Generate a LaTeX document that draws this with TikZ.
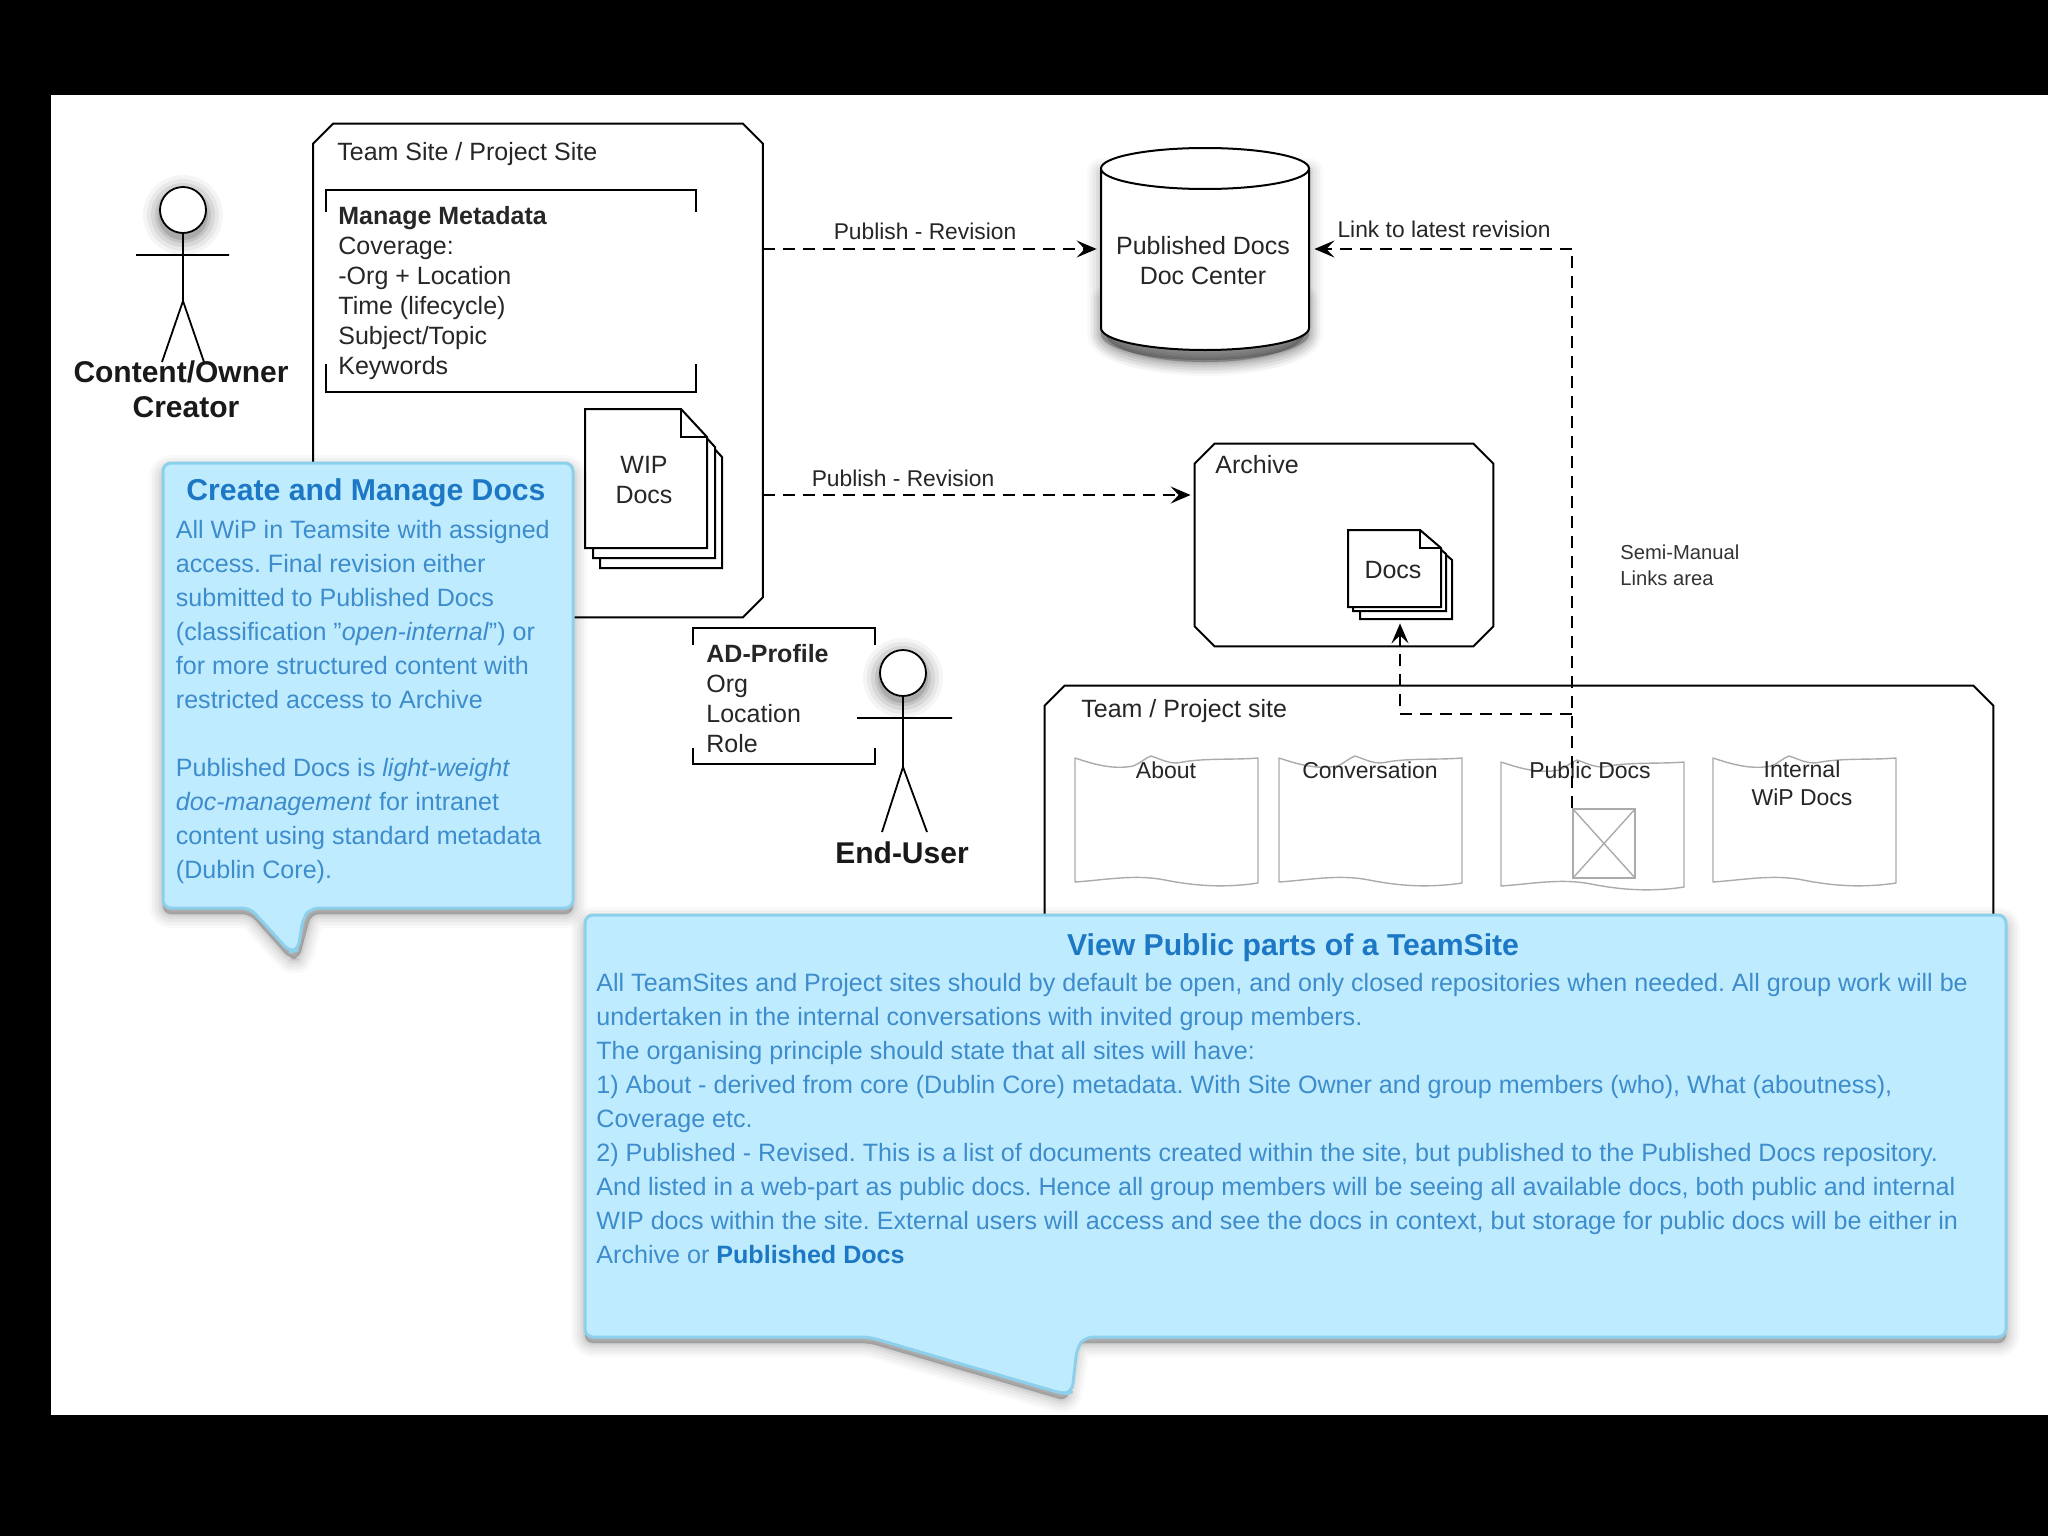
\documentclass[tikz,border=0pt]{standalone}
\usepackage{fontspec}
\setmainfont{Liberation Sans}[Ligatures=ResetAll]
\usetikzlibrary{arrows.meta,calc}
\definecolor{cofill}{HTML}{BFEBFF}
\definecolor{coline}{HTML}{8CD0EC}
\definecolor{cotitle}{HTML}{1C78C4}
\definecolor{cotext}{HTML}{3D8CCB}
\definecolor{pagegrey}{HTML}{ABABAB}
\newcommand{\softshadow}[1]{%
  \foreach \w/\o in {28/0.025,22/0.03,16/0.035,10/0.04,5/0.05,1/0.05}{%
    \path[fill=black,draw=black,line width=\w*0.5pt,line join=round,opacity=\o] #1;}}
\newcommand{\softdisc}[2]{%
  \foreach \r/\o in {40/0.04,36/0.05,32/0.07,28/0.09,25/0.12}{%
    \fill[black,opacity=\o] (#1,#2) circle[radius=\r];}}
\newcommand{\docsheet}[6]{%
  \draw[sheet] (#1,#2) -- ++(#3-#5,0) -- ++(#5,#6) -- ++(0,#4-#6) -- ++(-#3,0) -- cycle;}
% chamfered outline round a named rectangular node (corner cut 20 px)
\newcommand{\chamferbox}[1]{%
  \path[site] ([xshift=10pt]#1.north west) -- ([xshift=-10pt]#1.north east) -- ([yshift=-10pt]#1.north east)
    -- ([yshift=10pt]#1.south east) -- ([xshift=-10pt]#1.south east) -- ([xshift=10pt]#1.south west)
    -- ([yshift=10pt]#1.south west) -- ([yshift=-10pt]#1.north west) -- cycle;}
\tikzset{
  txt/.style={font=\frenchspacing\fontsize{12.5}{15}\selectfont,inner sep=0pt,text=black!85,align=left},
  small/.style={font=\fontsize{11.4}{13}\selectfont,inner sep=0pt,text=black!85},
  tiny/.style={font=\fontsize{10.1}{13}\selectfont,inner sep=0pt,text=black!80,align=left},
  pagelbl/.style={font=\fontsize{11.5}{14}\selectfont,inner sep=0pt,text=black!85,align=center},
  actorlbl/.style={font=\bfseries\fontsize{15}{18}\selectfont,inner sep=0pt,text=black!90,align=center},
  anchorbox/.style={inner sep=0pt},
  site/.style={draw=black,line width=1pt,fill=white,line join=miter},
  bracket/.style={draw=black,line width=1pt},
  sheet/.style={draw=black,line width=1pt,fill=white,line join=miter},
  stick/.style={draw=black,line width=.9pt},
  head/.style={circle,draw=black,line width=.9pt,fill=white,minimum size=23pt,inner sep=0pt},
  link/.style={draw=black,line width=1pt,dash pattern=on 6pt off 4pt,-{Stealth[length=10pt,width=8.5pt,inset=4pt]}},
  callout/.style={fill=cofill,draw=coline,line width=1.5pt,rounded corners=4pt,line join=round},
  cotitle/.style={font=\bfseries\fontsize{15.1}{18}\selectfont,inner sep=0pt,text=cotitle},
  cobody/.style={font=\frenchspacing\fontsize{12.55}{17}\selectfont,inner sep=0pt,text=cotext,align=left},
  wavepage/.pic={
    \draw[pagegrey,line width=.7pt,line join=round]
      (0,0) .. controls (18,6) and (38,12) .. (58,8)
      .. controls (66,5) and (70,0) .. (76,-2)
      .. controls (88,2) and (96,7) .. (108,4)
      .. controls (130,0) and (160,2) .. (183,0)
      -- (183,125) .. controls (150,130) and (120,128) .. (90,122)
      .. controls (60,116) and (30,122) .. (0,124) -- cycle;
  }
}
\begin{document}
\begin{tikzpicture}[x=0.5pt,y=-0.5pt]
\useasboundingbox (0,0) rectangle (2048,1536);
\fill[black] (0,0) rectangle (2048,1536);
\fill[white] (51,95) rectangle (2048,1415);

% Team site / project site
\node[anchorbox,minimum width=224.5pt,minimum height=246.5pt] (ts) at (538,370.5) {};
\chamferbox{ts}
\node[txt,anchor=west] (tstitle) at (337,154.5) {Team Site / Project Site};
\draw[bracket] (325.5,212) -- (325.5,190) -- (696,190) -- (696,212);
\draw[bracket] (325.5,364) -- (325.5,392) -- (696,392) -- (696,364);
\node[txt,anchor=north west] (meta) at (338,206) {\textbf{Manage Metadata}\\Coverage:\\-Org + Location\\Time (lifecycle)\\Subject/Topic\\Keywords};

% WIP docs stack
\docsheet{600}{429}{122}{139}{26}{28}
\docsheet{593}{419}{122}{139}{26}{28}
\docsheet{585}{409}{122}{139}{26}{28}
\draw[bracket,line width=.9pt] (681,409) -- (681,437) -- (707,437);
\node[txt,align=center] (wip) at (644,480) {WIP\\Docs};

% Cylinder
\softshadow{(1101,172) -- (1101,334) arc[start angle=180,end angle=0,x radius=104,y radius=26] -- (1309,172) -- cycle}
\softshadow{(1105,300) -- (1105,332) arc[start angle=180,end angle=0,x radius=100,y radius=30] -- (1305,300) -- cycle}
\path[fill=white,draw=black,line width=1pt] (1101,168.5) -- (1101,328) arc[start angle=180,end angle=0,x radius=104,y radius=22] -- (1309,168.5) -- cycle;
\path[fill=white,draw=black,line width=1pt] (1205,168.5) ellipse[x radius=104,y radius=20.5];
\node[anchorbox,minimum width=104pt,minimum height=101pt] (cyl) at (1205,249) {};
\node[txt,align=center] (cyllbl) at (1203,261) {Published Docs\\Doc Center};

% Archive
\node[anchorbox,minimum width=149pt,minimum height=101pt] (arch) at (1344,545) {};
\chamferbox{arch}
\node[txt,anchor=west] (archtitle) at (1215,465) {Archive};
\docsheet{1360}{542}{92}{77}{21}{18}
\docsheet{1353}{536}{93}{75}{21}{18}
\docsheet{1348}{530}{93}{77}{21}{18}
\draw[bracket,line width=.9pt] (1420,530) -- (1420,548) -- (1441,548);
\node[txt] (docslbl) at (1393,570) {Docs};
\node[anchorbox,minimum width=52pt,minimum height=44.5pt] (docstack) at (1400,574.5) {};

% Team / project site
\node[anchorbox,minimum width=474pt,minimum height=200pt] (tp) at (1519,886) {};
\chamferbox{tp}
\node[txt,anchor=west] (tptitle) at (1081,711) {Team / Project site};
\pic (pgabout) at (1075,758) {wavepage};
\pic (pgconv) at (1279,758) {wavepage};
\pic (pgpub) at (1501,762) {wavepage};
\pic (pgint) at (1713,758) {wavepage};
\node[pagelbl] (labout) at (1166,770) {About};
\node[pagelbl] (lconv) at (1370,770) {Conversation};
\node[pagelbl] (lpub) at (1590,770) {Public Docs};
\node[pagelbl,anchor=north] (lint) at (1802,760.5) {Internal\\WiP Docs};
\node[draw=pagegrey,line width=.7pt,inner sep=0pt,minimum width=31pt,minimum height=34.5pt] (ph) at (1604,843.5) {};
\draw[pagegrey,line width=.7pt] (ph.north west) -- (ph.south east) (ph.north east) -- (ph.south west);

% Labels
\node[tiny,anchor=west] (semi) at (1620,565) {Semi-Manual\\Links area};

% Connectors
\draw[link,shorten >=2pt] (ts.east |- cyl.west) -- (cyl.west);
\draw[link,shorten >=2pt] (ts.east |- 0,495) -- ([yshift=25pt]arch.west);
\draw[link,shorten >=2.5pt] (ph.north west) -- (ph.north west |- cyl.east) -- (cyl.east);
\coordinate (branch) at (ph.north west |- 0,714);
\draw[link,shorten >=2pt] (branch) -| (docstack.south);
\node[small] (pub1) at (925,231) {Publish - Revision};
\node[small] (pub2) at (903,478) {Publish - Revision};
\node[small] (linklbl) at (1444,229) {Link to latest revision};

% Actor 1
\softdisc{183}{215}
\node[head] (h1) at (183,210) {};
\coordinate (hip1) at (183,301);
\draw[stick] (h1.south) -- (hip1) (136,255) -- (229,255) (162,362) -- (hip1) -- (204,362);
\node[actorlbl] (c1) at (181,372) {Content/Owner};
\node[actorlbl] (c2) at (186,407) {Creator};

% AD profile and actor 2
\draw[bracket] (693,645) -- (693,628) -- (875,628) -- (875,645);
\draw[bracket] (693,748) -- (693,764) -- (875,764) -- (875,748);
\node[txt,anchor=north west] (ad) at (706,644) {\textbf{AD-Profile}\\Org\\Location\\Role};
\softdisc{903}{678}
\node[head] (h2) at (903,673) {};
\coordinate (hip2) at (903,767);
\draw[stick] (h2.south) -- (hip2) (857,718) -- (952,718) (882,832) -- (hip2) -- (927,832);
\node[actorlbl] (eu) at (902,853) {End-User};

% Callout 1
\softshadow{[shift={(0,6)},rounded corners=4pt] (163,463) -- (573,463) -- (573,908) -- (311,908) -- (299,953) -- (290,953) -- (250,908) -- (163,908) -- cycle}
\path[callout] (163,463) -- (573,463) -- (573,908) -- (311,908) -- (303,918) -- (298,950) -- (290,952) -- (250,908) -- (163,908) -- cycle;
\node[cotitle] (c1t) at (366,493) {Create and Manage Docs};
\node[cobody,anchor=north west] (c1b) at (175.5,520) {All WiP in Teamsite with assigned\\access. Final revision either\\submitted to Published Docs\\(classification "\textit{open-internal}") or\\for more structured content with\\restricted access to Archive\\[17pt]Published Docs is \textit{light-weight}\\\textit{doc-management} for intranet\\content using standard metadata\\(Dublin Core).};

% Callout 2
\softshadow{[shift={(0,6)},rounded corners=4pt] (585,915) -- (2006,915) -- (2006,1337) -- (1077,1337) -- (1067,1395) -- (869,1337) -- (585,1337) -- cycle}
\path[callout] (585,915) -- (2006,915) -- (2006,1337) -- (1085,1337) -- (1077,1348) -- (1072,1392) -- (1064,1394) -- (869,1337) -- (585,1337) -- cycle;
\node[cotitle] (c2t) at (1293,948) {View Public parts of a TeamSite};
\node[cobody,anchor=north west] (c2b) at (596,973) {All TeamSites and Project sites should by default be open, and only closed repositories when needed. All group work will be\\undertaken in the internal conversations with invited group members.\\The organising principle should state that all sites will have:\\1) About - derived from core (Dublin Core) metadata. With Site Owner and group members (who), What (aboutness),\\Coverage etc.\\2) Published - Revised. This is a list of documents created within the site, but published to the Published Docs repository.\\And listed in a web-part as public docs. Hence all group members will be seeing all available docs, both public and internal\\WIP docs within the site. External users will access and see the docs in context, but storage for public docs will be either in\\Archive or \textbf{\textcolor{cotitle}{Published Docs}}};
\end{tikzpicture}
\end{document}
